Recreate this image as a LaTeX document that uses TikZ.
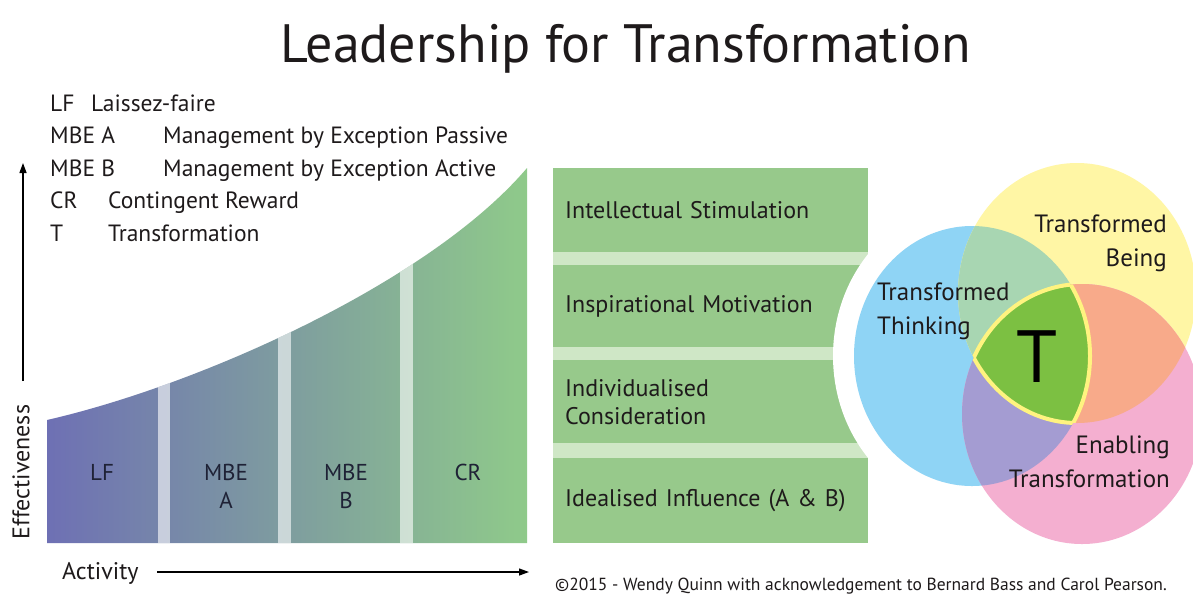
\documentclass[tikz,border=0pt]{standalone}
\usepackage{fontspec}
\setmainfont{PT Sans}
\usetikzlibrary{arrows.meta}
\definecolor{txt}{HTML}{1E1A1B}
\definecolor{boxg}{HTML}{97C98B}
\definecolor{stripg}{HTML}{CFE7C6}
\definecolor{chL}{HTML}{6E70B4}
\definecolor{chR}{HTML}{8FCA8A}
\definecolor{chtxt}{HTML}{1F2236}
\definecolor{vblue}{HTML}{8FD4F5}
\definecolor{vyel}{HTML}{FFF6A5}
\definecolor{vpink}{HTML}{F4AFD0}
\definecolor{vby}{HTML}{A8D6B2}
\definecolor{vyp}{HTML}{F8AA8A}
\definecolor{vbp}{HTML}{A49CD2}
\definecolor{vT}{HTML}{7CC042}
\definecolor{vTb}{HTML}{FFF380}
\begin{document}
\begin{tikzpicture}[x=1pt,y=-1pt,
  lbl/.style={font=\fontsize{23.5}{27}\selectfont, text=txt, inner sep=0pt},
  chlbl/.style={font=\fontsize{23}{28}\selectfont, text=chtxt, inner sep=0pt, align=center},
  greenbox/.style={fill=boxg, draw=none, anchor=north west, minimum width=315pt,
     text width=291pt, inner xsep=12pt, inner ysep=0pt, align=left,
     font=\fontsize{24}{28}\selectfont, text=txt},
  venn/.style={font=\fontsize{25}{34}\selectfont, text=txt, inner sep=0pt},
  axis/.style={line width=1.3pt, -{Triangle[length=10pt,width=7pt]}}]
\useasboundingbox (0,0) rectangle (1193,598);
\fill[white] (0,0) rectangle (1193,598);

% title
\node[font=\fontsize{54}{58}\selectfont, text=txt, anchor=base, inner sep=0pt] (title) at (626,62) {Leadership for Transformation};

% legend
\node[lbl, anchor=base west] (k1) at (50,111) {LF};
\node[lbl, anchor=base west] (d1) at (91,111) {Laissez-faire};
\node[lbl, anchor=base west] (k2) at (50,143) {MBE A};
\node[lbl, anchor=base west] (d2) at (163,143) {Management by Exception Passive};
\node[lbl, anchor=base west] (k3) at (50,176) {MBE B};
\node[lbl, anchor=base west] (d3) at (163,176) {Management by Exception Active};
\node[lbl, anchor=base west] (k4) at (50,208) {CR};
\node[lbl, anchor=base west] (d4) at (108,208) {Contingent Reward};
\node[lbl, anchor=base west] (k5) at (50,241) {T};
\node[lbl, anchor=base west] (d5) at (108,241) {Transformation};

% chart area
\def\areapath{(47,543) -- (47,420) .. controls (200,385) and (430,282) .. (527,168) -- (527,543) -- cycle}
\shade[left color=chL, right color=chR] \areapath;
\begin{scope}
  \clip \areapath;
  \fill[white, opacity=0.6] (158,150) rectangle (170,550);
  \fill[white, opacity=0.6] (278,150) rectangle (291,550);
  \fill[white, opacity=0.6] (400,150) rectangle (413,550);
\end{scope}
\node[chlbl] (lf) at (102,472) {LF};
\node[chlbl] (mbea) at (226,486) {MBE\\A};
\node[chlbl] (mbeb) at (346,486) {MBE\\B};
\node[chlbl] (cr) at (468,472) {CR};

% axes
\coordinate (ybot) at (23,381);
\coordinate (ytop) at (23,163);
\draw[axis] (ybot) -- (ytop);
\node[lbl, font=\fontsize{24}{27}\selectfont, rotate=90] (eff) at (21,472) {Effectiveness};
\node[lbl, font=\fontsize{24}{27}\selectfont, anchor=base west] (act) at (62,579) {Activity};
\coordinate (xstart) at (157,572);
\coordinate (xend) at (529,572);
\draw[axis] (xstart) -- (xend);

% green boxes
\fill[stripg] (553,168) rectangle (868,543);
\node[greenbox, minimum height=84pt] (b1) at (553,168) {Intellectual Stimulation};
\node[greenbox, minimum height=82pt] (b2) at (553,265) {Inspirational Motivation};
\node[greenbox, minimum height=83pt] (b3) at (553,360) {Individualised\\Consideration};
\node[greenbox, minimum height=85pt] (b4) at (553,458) {Idealised Influence (A \& B)};

% white ring cutting the boxes
\fill[white] (973,356) ellipse [x radius=140, y radius=154];

% venn
\def\bluepath{(972,356) ellipse [x radius=118, y radius=130]}
\def\yelpath{(1077,293) ellipse [x radius=119, y radius=130]}
\def\pinkpath{(1082,414) ellipse [x radius=120, y radius=130]}
\fill[vblue] \bluepath;
\fill[vyel] \yelpath;
\fill[vpink] \pinkpath;
\begin{scope}\clip \bluepath; \fill[vby] \yelpath; \end{scope}
\begin{scope}\clip \yelpath; \fill[vyp] \pinkpath; \end{scope}
\begin{scope}\clip \bluepath; \fill[vbp] \pinkpath; \end{scope}
\begin{scope}\clip \bluepath; \clip \yelpath; \fill[vT] \pinkpath; \end{scope}
\begin{scope}\clip \bluepath; \clip \yelpath; \draw[vTb, line width=4pt] \pinkpath; \end{scope}
\begin{scope}\clip \bluepath; \clip \pinkpath; \draw[vTb, line width=4pt] \yelpath; \end{scope}
\begin{scope}\clip \yelpath; \clip \pinkpath; \draw[vTb, line width=4pt] \bluepath; \end{scope}

\node[venn, align=left, anchor=north west] (tt) at (877,283) {Transformed\\Thinking};
\node[venn, align=right, anchor=north east] (tb) at (1167,215) {Transformed\\Being};
\node[venn, align=right, anchor=north east] (et) at (1170,436) {Enabling\\Transformation};
\node[font=\fontsize{74}{74}\selectfont, text=black, inner sep=0pt, anchor=base] (T) at (1037,382) {T};

% copyright
\node[font=\fontsize{17.5}{19}\selectfont, text=txt, inner sep=0pt, anchor=base west] (copy) at (555,590) {©2015 - Wendy Quinn with acknowledgement to Bernard Bass and Carol Pearson.};
\end{tikzpicture}
\end{document}
